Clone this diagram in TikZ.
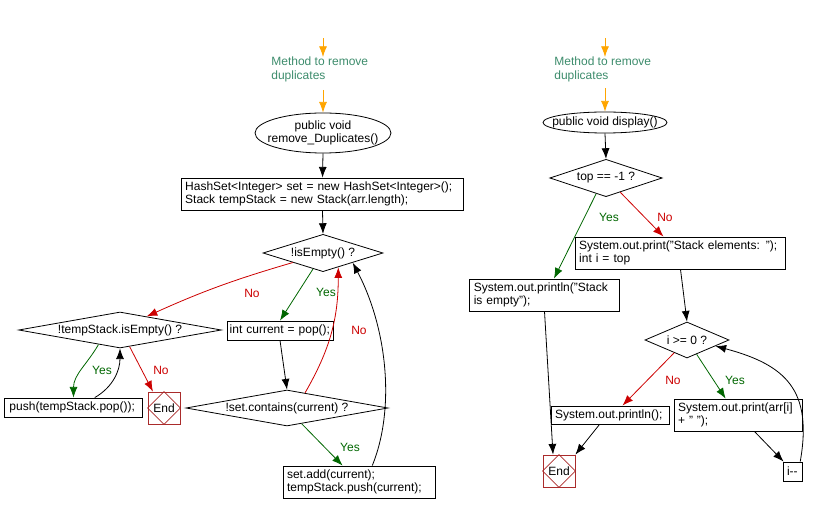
\documentclass[tikz,border=0pt]{standalone}
\usepackage{fontspec}
\setmainfont{Liberation Sans}
\usetikzlibrary{shapes.geometric,arrows.meta}
\definecolor{flowred}{HTML}{CC0000}
\definecolor{flowgreen}{HTML}{006600}
\definecolor{flownote}{HTML}{3D8C6C}
\definecolor{flowend}{HTML}{AA2B2B}
\definecolor{floworange}{HTML}{FFA500}
\begin{document}
\begin{tikzpicture}[x=0.75pt,y=-0.75pt,line width=0.6pt,
  every node/.style={font=\fontsize{9}{10}\selectfont},
  box/.style={draw, align=left, inner xsep=3pt, inner ysep=0pt},
  cond/.style={draw, diamond, aspect=5, inner sep=0pt},
  entry/.style={draw, ellipse, inner xsep=-7pt, inner ysep=0pt, align=center},
  endbox/.style={draw=flowend, minimum size=24pt, inner sep=0pt},
  note/.style={text=flownote, align=left, anchor=west, inner sep=0pt},
  yeslabel/.style={text=flowgreen}, nolabel/.style={text=flowred},
  flow/.style={-{Latex[length=8pt,width=6pt]}},
  flowyes/.style={flow, flowgreen},
  flowno/.style={flow, flowred},
  flowstart/.style={flow, floworange}]
\useasboundingbox (0,0) rectangle (819,513);

% remove_Duplicates()
\coordinate (s1) at (323,38); \coordinate (s1e) at (323,57); \coordinate (s1b) at (323,90);
\node[note] (c1) at (271,69.5) {Method to remove\\duplicates};
\node[entry, minimum width=102pt, minimum height=30pt] (m1) at (323,133) {public void\\remove\_Duplicates()};
\node[box, text width=206pt, minimum height=24pt] (b1) at (322.5,194) {HashSet<Integer> set = new HashSet<Integer>();\\Stack tempStack = new Stack(arr.length);};
\node[cond, minimum width=86pt, minimum height=28pt] (d1) at (323,253) {!isEmpty() ?};
\node[cond, minimum width=152pt, minimum height=27pt] (d2) at (120,330) {!tempStack.isEmpty() ?};
\node[box, inner xsep=2pt, text width=75.5pt, minimum height=14.25pt] (b2) at (280,330.5) {int current = pop();};
\node[cond, minimum width=151.5pt, minimum height=27pt] (d3) at (287,408) {!set.contains(current) ?};
\node[box, text width=108pt, minimum height=24pt] (b3) at (359,482) {set.add(current);\\tempStack.push(current);};
\node[box, inner xsep=4pt, text width=96pt, minimum height=14.25pt] (b4) at (73.5,407.5) {push(tempStack.pop());};
\node[endbox] (e1) at (164,408) {End};
\draw[flowend] (e1.north) -- (e1.east) -- (e1.south) -- (e1.west) -- cycle;

\draw[flowstart] (s1) -- (s1e);
\draw[flowstart] (s1b) -- (m1.north);
\draw[flow] (m1.south) -- (b1.north);
\draw[flow] (b1.south) -- (d1.north);
\draw[flowno] (d1.south west) to[bend right=4] (d2.27);
\draw[flowyes] (d1.238) -- (b2.north);
\draw[flow] (b2.south) -- (d3.north);
\draw[flowno] (d3.40) to[out=60,in=-90] (d1.-43);
\draw[flowyes] (d3.-47) -- (b3.135);
\draw[flow] (b3.51) .. controls (395,410) and (388,330) .. (d1.-18);
\draw[flowyes] (d2.214) to[out=240,in=90] (b4.north);
\draw[flow] (b4.25) to[out=30,in=-90] (d2.south);
\draw[flowno] (d2.-60) -- (e1.124);
\node[nolabel] (n1) at (252,293) {No};
\node[yeslabel] (y1) at (326,292) {Yes};
\node[nolabel] (n2) at (359,330) {No};
\node[yeslabel] (y2) at (350,447) {Yes};
\node[yeslabel] (y3) at (102,370) {Yes};
\node[nolabel] (n3) at (161,370) {No};

% display()
\coordinate (s2) at (605,38); \coordinate (s2e) at (605,57); \coordinate (s2b) at (605,88);
\node[note] (c2) at (554,69.5) {Method to remove\\duplicates};
\node[entry, minimum width=93pt, minimum height=15.75pt] (r1) at (605,122.5) {public void display()};
\node[cond, minimum width=79.5pt, minimum height=28pt] (rd1) at (606,178) {top == -1 ?};
\node[box, text width=152pt, minimum height=24pt] (rb1) at (680.5,253) {System.out.print("Stack elements: ");\\int i = top};
\node[box, text width=106pt, minimum height=24pt] (rb2) at (544.5,295) {System.out.println("Stack\\is empty");};
\node[cond, minimum width=60pt, minimum height=27pt] (rd2) at (687,340) {i >= 0 ?};
\node[box, text width=82.5pt, minimum height=13.5pt] (rb3) at (610,415) {System.out.println();};
\node[box, text width=90pt, minimum height=24pt] (rb4) at (738,415) {System.out.print(arr[i]\\+ " ");};
\node[box, text width=8.25pt, minimum height=14.25pt] (rb5) at (792.5,471.5) {i{-}{-}};
\node[endbox] (e2) at (559,471) {End};
\draw[flowend] (e2.north) -- (e2.east) -- (e2.south) -- (e2.west) -- cycle;

\draw[flowstart] (s2) -- (s2e);
\draw[flowstart] (s2b) -- (r1.north);
\draw[flow] (r1.south) -- (rd1.north);
\draw[flowyes] (rd1.238) -- (rb2.60);
\draw[flowno] (rd1.-45) -- (rb1.136);
\draw[flow] (rb1.south) -- (rd2.north);
\draw[flowno] (rd2.225) -- (rb3.37);
\draw[flowyes] (rd2.-56) -- (rb4.127);
\draw[flow] (rb4.-45) -- (rb5.132);
\draw[flow] (rb5.52) to[out=80,in=-15,looseness=1.3] (rd2.-12);
\draw[flow] (rb2.south) -- (e2.110);
\draw[flow] (rb3.222) -- (e2.north east);
\node[yeslabel] (y4) at (609,217) {Yes};
\node[nolabel] (n4) at (665,217) {No};
\node[nolabel] (n5) at (673,380) {No};
\node[yeslabel] (y5) at (735,380) {Yes};
\end{tikzpicture}
\end{document}
